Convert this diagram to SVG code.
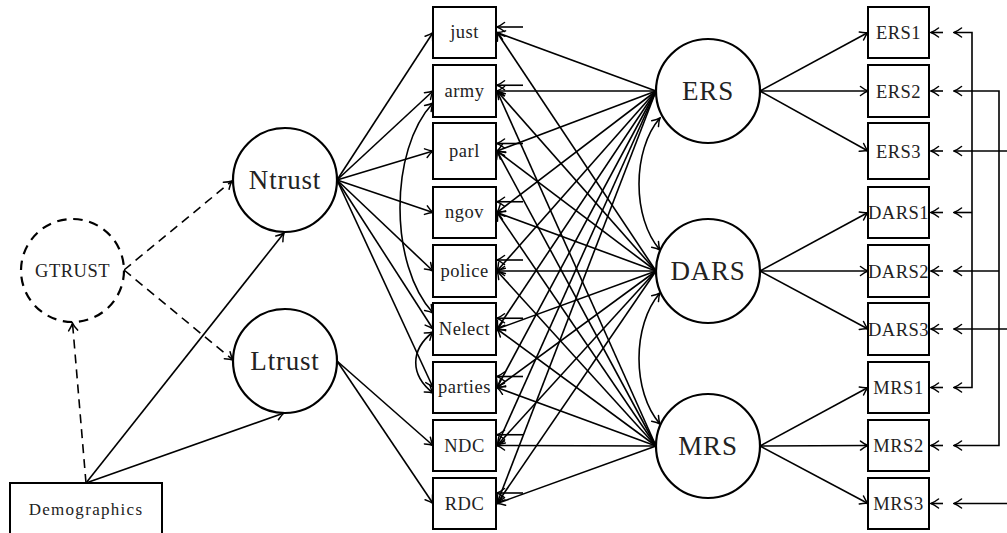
<svg xmlns="http://www.w3.org/2000/svg" width="1007" height="533" viewBox="0 0 1007 533">
  <style>
    .bg { fill: #ffffff; }
    .lat { fill: #ffffff; stroke: #000; stroke-width: 2.2; }
    .latd { fill: #ffffff; stroke: #000; stroke-width: 2.2; stroke-dasharray: 9.5 6.7; }
    .box { fill: #ffffff; stroke: #000; stroke-width: 2; }
    .edge { fill: none; stroke: #000; stroke-width: 1.6; marker-end: url(#arr); }
    .dash { fill: none; stroke: #000; stroke-width: 1.6; stroke-dasharray: 9 6; marker-end: url(#arr); }
    .cov { fill: none; stroke: #000; stroke-width: 1.6; marker-start: url(#arr); marker-end: url(#arr); }
    .big { font-family: "Liberation Serif", "DejaVu Serif", serif; font-size: 27px; text-anchor: middle; fill: #222; letter-spacing: 0.8px; }
    .mid { font-family: "Liberation Serif", "DejaVu Serif", serif; font-size: 18.5px; text-anchor: middle; fill: #222; letter-spacing: 0.5px; }
    .dm { font-family: "Liberation Serif", "DejaVu Serif", serif; font-size: 17px; text-anchor: middle; fill: #222; letter-spacing: 1.3px; }
  </style>
  <defs>
    <marker id="arr" viewBox="-9 -6 10 12" refX="0" refY="0" markerWidth="10" markerHeight="12" markerUnits="userSpaceOnUse" orient="auto-start-reverse">
      <path d="M -7.5 -4.5 C -4.5 -2.2, -1.8 -0.6, 0 0 C -1.8 0.6, -4.5 2.2, -7.5 4.5" fill="none" stroke="#000" stroke-width="1.5" stroke-linecap="round"/>
    </marker>
  </defs>
  <rect class="bg" x="0" y="0" width="1007" height="533"/>

  <!-- connectors -->
  <g id="connectors">
    <!-- second-order factor and covariates -->
    <path class="dash" d="M 124 270 L 232 181"/>
    <path class="dash" d="M 124 270 L 233 360"/>
    <path class="dash" d="M 86 483 L 72.5 323"/>
    <path class="edge" d="M 86 483 L 284 233"/>
    <path class="edge" d="M 86 483 L 284 413"/>

    <!-- Ntrust loadings -->
    <path class="edge" d="M 337 180 L 433 32.5"/>
    <path class="edge" d="M 337 180 L 433 91"/>
    <path class="edge" d="M 337 180 L 433 151"/>
    <path class="edge" d="M 337 180 L 433 212.5"/>
    <path class="edge" d="M 337 180 L 433 271"/>
    <path class="edge" d="M 337 180 L 433 329"/>
    <path class="edge" d="M 337 180 L 433 387.5"/>
    <!-- Ltrust loadings -->
    <path class="edge" d="M 337 361 L 433 445.5"/>
    <path class="edge" d="M 337 361 L 433 503.5"/>

    <!-- residual covariances among items -->
    <path class="cov" d="M 433 103 C 389 150, 389 265, 433 313"/>
    <path class="cov" d="M 433 332 C 410 350, 410 375, 433 393"/>

    <!-- ERS on trust items -->
    <path class="edge" d="M 656 91 L 497 32.5"/>
    <path class="edge" d="M 656 91 L 497 91"/>
    <path class="edge" d="M 656 91 L 497 151"/>
    <path class="edge" d="M 656 91 L 497 212.5"/>
    <path class="edge" d="M 656 91 L 497 271"/>
    <path class="edge" d="M 656 91 L 497 329"/>
    <path class="edge" d="M 656 91 L 497 387.5"/>
    <path class="edge" d="M 656 91 L 497 445.5"/>
    <path class="edge" d="M 656 91 L 497 503.5"/>
    <!-- DARS on trust items -->
    <path class="edge" d="M 656 271 L 497 32.5"/>
    <path class="edge" d="M 656 271 L 497 91"/>
    <path class="edge" d="M 656 271 L 497 151"/>
    <path class="edge" d="M 656 271 L 497 212.5"/>
    <path class="edge" d="M 656 271 L 497 271"/>
    <path class="edge" d="M 656 271 L 497 329"/>
    <path class="edge" d="M 656 271 L 497 387.5"/>
    <path class="edge" d="M 656 271 L 497 445.5"/>
    <path class="edge" d="M 656 271 L 497 503.5"/>
    <!-- MRS on trust items -->
    <path class="edge" d="M 656 446 L 497 91"/>
    <path class="edge" d="M 656 446 L 497 151"/>
    <path class="edge" d="M 656 446 L 497 212.5"/>
    <path class="edge" d="M 656 446 L 497 271"/>
    <path class="edge" d="M 656 446 L 497 329"/>
    <path class="edge" d="M 656 446 L 497 387.5"/>
    <path class="edge" d="M 656 446 L 497 445.5"/>
    <path class="edge" d="M 656 446 L 497 503.5"/>

    <!-- item residuals -->
    <path class="edge" d="M 523 27 H 497"/>
    <path class="edge" d="M 523 85.25 H 497"/>
    <path class="edge" d="M 523 143.5 H 497"/>
    <path class="edge" d="M 523 201.75 H 497"/>
    <path class="edge" d="M 523 260 H 497"/>
    <path class="edge" d="M 523 318.25 H 497"/>
    <path class="edge" d="M 523 376.5 H 497"/>
    <path class="edge" d="M 523 434.75 H 497"/>
    <path class="edge" d="M 523 493 H 497"/>

    <!-- response style covariances -->
    <path class="cov" d="M 660 118 C 632 150, 632 218, 660 250"/>
    <path class="cov" d="M 660 293 C 632 325, 632 392, 660 424"/>

    <!-- response style indicators -->
    <path class="edge" d="M 760 91 L 868 32.5"/>
    <path class="edge" d="M 760 91 L 868 91"/>
    <path class="edge" d="M 760 91 L 868 151"/>
    <path class="edge" d="M 760 271 L 868 212.5"/>
    <path class="edge" d="M 760 271 L 868 271"/>
    <path class="edge" d="M 760 271 L 868 329"/>
    <path class="edge" d="M 760 446 L 868 387.5"/>
    <path class="edge" d="M 760 446 L 868 445.5"/>
    <path class="edge" d="M 760 446 L 868 503.5"/>

    <!-- indicator residuals -->
    <path class="edge" d="M 943 32.5 H 931"/>
    <path class="edge" d="M 943 91 H 931"/>
    <path class="edge" d="M 943 151 H 931"/>
    <path class="edge" d="M 943 212.5 H 931"/>
    <path class="edge" d="M 943 271 H 931"/>
    <path class="edge" d="M 943 329 H 931"/>
    <path class="edge" d="M 943 387.5 H 931"/>
    <path class="edge" d="M 943 445.5 H 931"/>
    <path class="edge" d="M 943 503.5 H 931"/>

    <!-- residual covariances across response styles -->
    <path class="cov" d="M 954 32.5 H 972 V 387.5 H 954"/>
    <path class="edge" d="M 972 212.5 H 954"/>
    <path class="cov" d="M 954 91 H 999 V 445.5 H 954"/>
    <path class="edge" d="M 999 271 H 954"/>
    <path class="edge" d="M 1012 151 H 954"/>
    <path class="edge" d="M 1012 329 H 954"/>
    <path class="edge" d="M 1012 503.5 H 954"/>
  </g>

  <!-- latent factors -->
  <g id="GTRUST">
    <circle class="latd" cx="72.5" cy="270.5" r="51.5"/>
    <text class="mid" x="72.5" y="277">GTRUST</text>
  </g>
  <g id="Ntrust">
    <circle class="lat" cx="285" cy="180" r="52"/>
    <text class="big" x="285" y="189">Ntrust</text>
  </g>
  <g id="Ltrust">
    <circle class="lat" cx="285" cy="361" r="52"/>
    <text class="big" x="285" y="370">Ltrust</text>
  </g>
  <g id="ERS">
    <circle class="lat" cx="708" cy="91" r="52"/>
    <text class="big" x="708" y="100">ERS</text>
  </g>
  <g id="DARS">
    <circle class="lat" cx="708" cy="271" r="52"/>
    <text class="big" x="708" y="280">DARS</text>
  </g>
  <g id="MRS">
    <circle class="lat" cx="708" cy="446" r="52"/>
    <text class="big" x="708" y="455">MRS</text>
  </g>

  <!-- covariates -->
  <g id="Demographics">
    <rect class="box" x="10" y="483" width="152" height="54"/>
    <text class="dm" x="86" y="515">Demographics</text>
  </g>

  <!-- trust items -->
  <g id="just"><rect class="box" x="433" y="7" width="63" height="51"/><text class="mid" x="464.5" y="38">just</text></g>
  <g id="army"><rect class="box" x="433" y="65" width="63" height="52"/><text class="mid" x="464.5" y="97">army</text></g>
  <g id="parl"><rect class="box" x="433" y="123" width="63" height="56"/><text class="mid" x="464.5" y="157">parl</text></g>
  <g id="ngov"><rect class="box" x="433" y="187" width="63" height="51"/><text class="mid" x="464.5" y="218">ngov</text></g>
  <g id="police"><rect class="box" x="433" y="245" width="63" height="52"/><text class="mid" x="464.5" y="277">police</text></g>
  <g id="Nelect"><rect class="box" x="433" y="303" width="63" height="52"/><text class="mid" x="464.5" y="335">Nelect</text></g>
  <g id="parties"><rect class="box" x="433" y="362" width="63" height="51"/><text class="mid" x="464.5" y="393">parties</text></g>
  <g id="NDC"><rect class="box" x="433" y="420" width="63" height="51"/><text class="mid" x="464.5" y="452">NDC</text></g>
  <g id="RDC"><rect class="box" x="433" y="478" width="63" height="51"/><text class="mid" x="464.5" y="510">RDC</text></g>

  <!-- response style indicators -->
  <g id="ERS1"><rect class="box" x="868" y="7" width="61" height="51"/><text class="mid" x="898.5" y="39">ERS1</text></g>
  <g id="ERS2"><rect class="box" x="868" y="65" width="61" height="52"/><text class="mid" x="898.5" y="97.5">ERS2</text></g>
  <g id="ERS3"><rect class="box" x="868" y="123" width="61" height="56"/><text class="mid" x="898.5" y="157.5">ERS3</text></g>
  <g id="DARS1"><rect class="box" x="868" y="187" width="61" height="51"/><text class="mid" x="898.5" y="219">DARS1</text></g>
  <g id="DARS2"><rect class="box" x="868" y="245" width="61" height="52"/><text class="mid" x="898.5" y="277.5">DARS2</text></g>
  <g id="DARS3"><rect class="box" x="868" y="303" width="61" height="52"/><text class="mid" x="898.5" y="335.5">DARS3</text></g>
  <g id="MRS1"><rect class="box" x="868" y="362" width="61" height="51"/><text class="mid" x="898.5" y="394">MRS1</text></g>
  <g id="MRS2"><rect class="box" x="868" y="420" width="61" height="51"/><text class="mid" x="898.5" y="452">MRS2</text></g>
  <g id="MRS3"><rect class="box" x="868" y="478" width="61" height="51"/><text class="mid" x="898.5" y="510">MRS3</text></g>
</svg>
